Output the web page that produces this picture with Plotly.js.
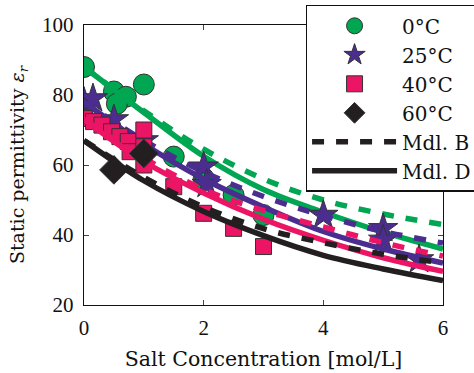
<!DOCTYPE html>
<html>
<head>
<meta charset="utf-8">
<script src="https://cdn.plot.ly/plotly-3.0.1.min.js"></script>
<style>html,body{margin:0;padding:0;background:#fff;}#chart{width:474px;height:373px;}</style>
</head>
<body>
<div id="chart"></div>
<script>
// Measured data (salt concentration in mol/L, static permittivity)
const c0x = [0, 0.5, 0.7, 0.55, 1.0, 1.5, 2.0, 2.5, 3.0];
const c0y = [88, 81, 79.5, 77.5, 83, 62.4, 56.2, 51.4, 45.7];
const c25x = [0, 0.15, 0.5, 1.0, 2.0, 2.05, 4.0, 5.0, 5.0, 5.6];
const c25y = [78, 79, 73, 67, 59.5, 54.5, 45.7, 41.9, 38.6, 33];
const c40x = [0, 0.16, 0.3, 0.46, 0.6, 0.74, 0.77, 1.0, 1.0, 1.0, 1.5, 2.0, 2.5, 3.0];
const c40y = [73.3, 72.4, 71.4, 69.5, 68.1, 66.7, 63.8, 70, 65.2, 60, 53.8, 46.2, 41.9, 36.7];
const c60x = [0.5, 1.0];
const c60y = [58.6, 63.3];

// Model curves read at c = 0..6
const modelX = [0, 1, 2, 3, 4, 5, 6];
const mdlD0 = [88, 75, 62.5, 53, 46.5, 40.8, 36];
const mdlB0 = [88, 75.5, 64.5, 56, 50, 46, 43];
const mdlD25 = [78, 66, 56, 48, 41, 36, 32];
const mdlB25 = [78, 67, 58, 51, 45.5, 41, 37.7];
const mdlD40 = [73, 61, 52, 44.5, 38.5, 33.5, 29.6];
const mdlB40 = [73, 62, 53, 47, 42.3, 37.8, 34];
const mdlD60 = [67, 55.5, 46.7, 39.8, 34.2, 30.3, 27];
const mdlB60 = [67, 56.5, 48, 41.8, 37.8, 34.5, 32];

const labels = ['0°C', '25°C', '40°C', '60°C', 'Mdl. B', 'Mdl. D'];
const colors = ['#00A651', '#4B2D8F', '#EC1565', '#231F20'];

const W = 5.5, DASH = '12px,12px';
function pts(x, y, i, sym, size) {
  return {x: x, y: y, type: 'scatter', mode: 'markers', name: labels[i],
    legendrank: i + 1,
    marker: {symbol: sym, size: size, color: colors[i], line: {color: '#333', width: 1}}};
}
function mdl(y, i, dash) {
  return {x: modelX, y: y, type: 'scatter', mode: 'lines', showlegend: false,
    line: {color: colors[i], width: W, dash: dash, shape: 'spline', smoothing: 1}};
}
const data = [
  pts(c0x, c0y, 0, 'circle', 21), mdl(mdlB0, 0, DASH), mdl(mdlD0, 0, 'solid'),
  pts(c25x, c25y, 1, 'star', 22), mdl(mdlB25, 1, DASH), mdl(mdlD25, 1, 'solid'),
  pts(c40x, c40y, 2, 'square', 16), mdl(mdlB40, 2, DASH), mdl(mdlD40, 2, 'solid'),
  pts(c60x, c60y, 3, 'diamond', 22), mdl(mdlB60, 3, DASH), mdl(mdlD60, 3, 'solid'),
  {x: [null], y: [null], type: 'scatter', mode: 'lines', name: labels[4], legendrank: 5,
    line: {color: colors[3], width: W, dash: DASH}},
  {x: [null], y: [null], type: 'scatter', mode: 'lines', name: labels[5], legendrank: 6,
    line: {color: colors[3], width: W}}
];

const tickFont = {family: 'Liberation Serif, serif', size: 21, color: '#111'};
const titleFont = {family: 'DejaVu Serif, serif', size: 20, color: '#111'};
const legendFont = {family: 'DejaVu Serif, serif', size: 20, color: '#111'};
const layout = {
  width: 474, height: 373,
  margin: {l: 84, r: 31, t: 25, b: 68, autoexpand: false},
  paper_bgcolor: '#fff', plot_bgcolor: '#fff',
  showlegend: true,
  font: tickFont,
  xaxis: {range: [0, 6], tickvals: [0, 2, 4, 6], ticks: 'inside', ticklen: 5,
    showline: true, linecolor: '#111', linewidth: 1.2, mirror: 'allticks', showgrid: false, zeroline: false,
    tickfont: tickFont, ticklabelstandoff: 4, automargin: false,
    title: {text: 'Salt Concentration [mol/L]', font: {family: titleFont.family, size: 20.5, color: '#111'}, standoff: 12}},
  yaxis: {range: [20, 100], tickvals: [20, 40, 60, 80, 100], ticks: 'inside', ticklen: 5,
    showline: true, linecolor: '#111', linewidth: 1.2, mirror: 'allticks', showgrid: false, zeroline: false,
    tickfont: tickFont, ticklabelstandoff: 5, automargin: false,
    title: {text: 'Static permittivity <i>ε</i><sub><i>r</i></sub>', font: {family: titleFont.family, size: 19, color: '#111'}, standoff: 12}},
  legend: {x: 0.618, y: 1.071, xanchor: 'left', yanchor: 'top', bgcolor: '#fff',
    bordercolor: '#111', borderwidth: 1.2, font: legendFont, itemwidth: 85,
    traceorder: 'normal', tracegroupgap: 0}
};
Plotly.newPlot('chart', data, layout, {displayModeBar: false, staticPlot: true});
</script>
</body>
</html>
